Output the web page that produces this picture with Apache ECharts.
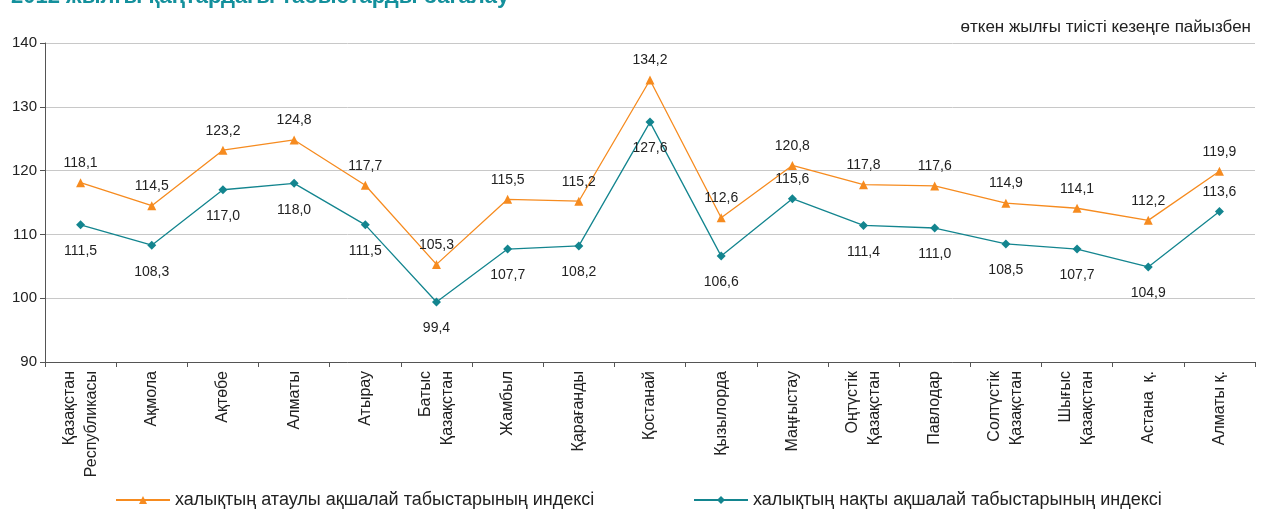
<!DOCTYPE html>
<html>
<head>
<meta charset="utf-8">
<title>Табыстар индексі</title>
<script src="https://cdn.jsdelivr.net/npm/echarts@6/dist/echarts.min.js"></script>
<style>
  html, body { margin: 0; padding: 0; background: #fff; }
  #main { width: 1261px; height: 510px; }
</style>
</head>
<body>
<div id="main"></div>
<script>
// өңірлер
var regions = ['Қазақстан\nРеспубликасы', 'Ақмола', 'Ақтөбе', 'Алматы', 'Атырау', 'Батыс\nҚазақстан',
  'Жамбыл', 'Қарағанды', 'Қостанай', 'Қызылорда', 'Маңғыстау', 'Оңтүстік\nҚазақстан', 'Павлодар',
  'Солтүстік\nҚазақстан', 'Шығыс\nҚазақстан', 'Астана  қ.', 'Алматы қ.'];
var nominal = [118.1, 114.5, 123.2, 124.8, 117.7, 105.3, 115.5, 115.2, 134.2, 112.6, 120.8, 117.8, 117.6, 114.9, 114.1, 112.2, 119.9];
var real = [111.5, 108.3, 117.0, 118.0, 111.5, 99.4, 107.7, 108.2, 127.6, 106.6, 115.6, 111.4, 111.0, 108.5, 107.7, 104.9, 113.6];
// нақты индекс белгісі жоғарыда тұратын өңірлер
var realAbove = ['Маңғыстау', 'Алматы қ.'];

var nameNominal = 'халықтың атаулы ақшалай табыстарының индексі';
var nameReal = 'халықтың нақты ақшалай табыстарының индексі';
var font = '"Liberation Sans", Arial, sans-serif';

function fmt(v) { return v.toFixed(1).replace('.', ','); }

var realData = real.map(function (v, i) {
  var up = realAbove.indexOf(regions[i]) >= 0;
  return { value: v, label: { position: up ? 'top' : 'bottom', distance: up ? 8 : 15 } };
});

var chart = echarts.init(document.getElementById('main'));
chart.setOption({
  animation: false,
  textStyle: { fontFamily: font },
  title: [
    { text: '2012 жылғы қаңтардағы табыстарды бағалау', left: 6, top: -19,
      textStyle: { color: '#14909c', fontSize: 22, fontWeight: 'bold', fontFamily: font } },
    { text: 'өткен жылғы тиісті кезеңге пайызбен', right: 5, top: 14,
      textStyle: { color: '#222', fontSize: 17, fontWeight: 'normal', fontFamily: font } }
  ],
  grid: { left: 45, right: 6, top: 43, bottom: 148 },
  legend: [
    { data: [nameNominal], left: 110, top: 486, itemWidth: 54, itemHeight: 10,
      textStyle: { fontSize: 18, color: '#222', fontFamily: font } },
    { data: [nameReal], left: 688, top: 486, itemWidth: 54, itemHeight: 10,
      textStyle: { fontSize: 18, color: '#222', fontFamily: font } }
  ],
  xAxis: {
    type: 'category',
    data: regions,
    boundaryGap: true,
    axisLine: { lineStyle: { color: '#555' } },
    axisTick: { show: true, alignWithLabel: false, length: 5, lineStyle: { color: '#555' } },
    axisLabel: { rotate: 90, interval: 0, color: '#222', fontSize: 16, lineHeight: 22, margin: 9 }
  },
  yAxis: {
    type: 'value',
    min: 90, max: 140, interval: 10,
    axisLine: { show: true, lineStyle: { color: '#555' } },
    axisTick: { show: true, length: 5, lineStyle: { color: '#555' } },
    axisLabel: { color: '#222', fontSize: 15, margin: 8 },
    splitLine: { lineStyle: { color: '#c8c8c8' } }
  },
  series: [
    {
      name: nameNominal,
      type: 'line',
      data: nominal,
      symbol: 'triangle',
      symbolSize: 9,
      itemStyle: { color: '#f68b1f' },
      lineStyle: { color: '#f68b1f', width: 1.3 },
      label: { show: true, position: 'top', distance: 8, color: '#222', fontSize: 14,
        formatter: function (p) { return fmt(p.value); } }
    },
    {
      name: nameReal,
      type: 'line',
      data: realData,
      symbol: 'diamond',
      symbolSize: 9,
      itemStyle: { color: '#13858f' },
      lineStyle: { color: '#13858f', width: 1.3 },
      label: { show: true, color: '#222', fontSize: 14,
        formatter: function (p) { return fmt(p.value); } }
    }
  ]
});
</script>
</body>
</html>
